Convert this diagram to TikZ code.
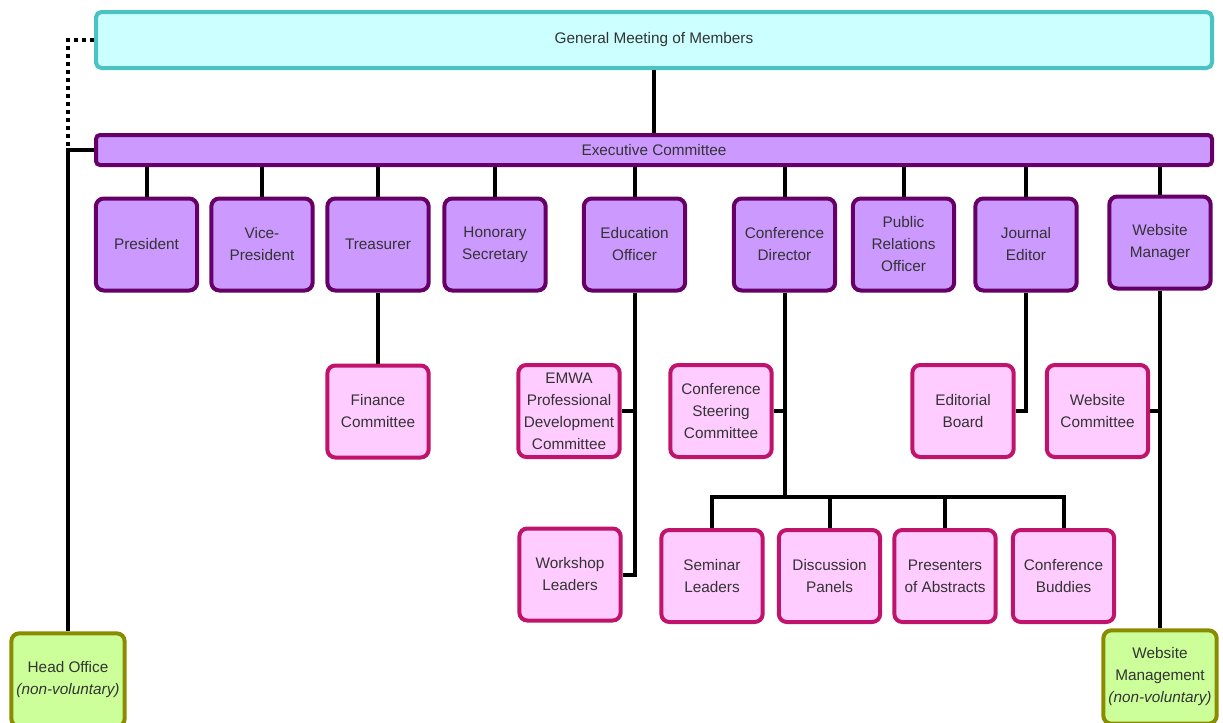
\documentclass[tikz,border=0pt]{standalone}
\usepackage{fontspec}
\setmainfont{Liberation Sans}
\definecolor{gmfill}{HTML}{CCFFFF}
\definecolor{gmline}{HTML}{4CC3C3}
\definecolor{exfill}{HTML}{CC99FF}
\definecolor{exline}{HTML}{660066}
\definecolor{subfill}{HTML}{FFCCFF}
\definecolor{subline}{HTML}{C0136B}
\definecolor{paidfill}{HTML}{CCFF99}
\definecolor{paidline}{HTML}{8A8C00}
\definecolor{txt}{HTML}{333333}
\tikzset{
  box/.style={rounded corners=6pt, line width=3pt, align=center, text=txt, inner sep=1pt,
    minimum width=76pt, minimum height=69pt, font=\fontsize{11.5}{16.5}\selectfont},
  post/.style={box, draw=exline, fill=exfill},
  sub/.style={box, draw=subline, fill=subfill},
  paid/.style={box, draw=paidline, fill=paidfill, minimum width=85pt, minimum height=70pt},
  link/.style={line width=3pt, black},
  dotlink/.style={line width=3pt, black, dash pattern=on 3pt off 3pt}
}
\begin{document}
\begin{tikzpicture}[x=0.75pt, y=-0.75pt]
\useasboundingbox (0,0) rectangle (1223,722);
\node[box, draw=gmline, fill=gmfill, rounded corners=4pt, minimum width=837pt, minimum height=42pt] (gm) at (654,40) {General Meeting of Members};
\node[post, rounded corners=3pt, minimum width=837pt, minimum height=22.5pt] (ec) at (654,150) {Executive Committee};

% executive posts
\node[post] (pres) at (146.5,244.5) {President};
\node[post] (vice) at (262,244.5) {Vice-\\President};
\node[post] (treas) at (378,244.5) {Treasurer};
\node[post] (hon) at (495,244.5) {Honorary\\Secretary};
\node[post] (edu) at (634.5,244.5) {Education\\Officer};
\node[post] (cdir) at (784.5,244.5) {Conference\\Director};
\node[post] (pro) at (903.5,244.5) {Public\\Relations\\Officer};
\node[post] (jed) at (1026,244.5) {Journal\\Editor};
\node[post] (wman) at (1160,242.5) {Website\\Manager};

% committees
\node[sub] (fin) at (378,411.5) {Finance\\Committee};
\node[sub] (emwa) at (569,411) {EMWA\\Professional\\Development\\Committee};
\node[sub] (csc) at (721,411) {Conference\\Steering\\Committee};
\node[sub] (edb) at (963,411) {Editorial\\Board};
\node[sub] (wcom) at (1097.5,411) {Website\\Committee};
\node[sub] (wsl) at (570,574.5) {Workshop\\Leaders};
\node[sub] (sem) at (712,576) {Seminar\\Leaders};
\node[sub] (disc) at (829.5,576) {Discussion\\Panels};
\node[sub] (abs) at (945,576) {Presenters\\of Abstracts};
\node[sub] (bud) at (1063.5,576) {Conference\\Buddies};

% paid staff
\node[paid] (hq) at (68,680) {Head Office\\\textit{(non-voluntary)}};
\node[paid] (wmgt) at (1160,677) {Website\\Management\\\textit{(non-voluntary)}};

\coordinate (bus) at (784.5,497);

\draw[link] (gm) -- (ec);
\foreach \n in {pres,vice,treas,hon,edu,cdir,pro,jed,wman}
  \draw[link] (\n.north) -- (\n.north |- ec.south);
\draw[link] (treas) -- (fin);
\draw[link] (edu.south) |- (wsl.east);
\draw[link] (emwa.east) -- (emwa.east -| edu.south);
\draw[link] (cdir.south) -- (bus);
\draw[link] (csc.east) -- (csc.east -| cdir.south);
\draw[link] (sem.north) |- (bus) -| (bud.north);
\draw[link] (disc.north) -- (disc.north |- bus);
\draw[link] (abs.north) -- (abs.north |- bus);
\draw[link] (jed.south) |- (edb.east);
\draw[link] (wman) -- (wmgt);
\draw[link] (wcom.east) -- (wcom.east -| wman.south);
\draw[link] (ec.west) -| (hq.north);
\draw[dotlink] (gm.west) -| ([yshift=3pt]hq.north |- ec.west);
\end{tikzpicture}
\end{document}
